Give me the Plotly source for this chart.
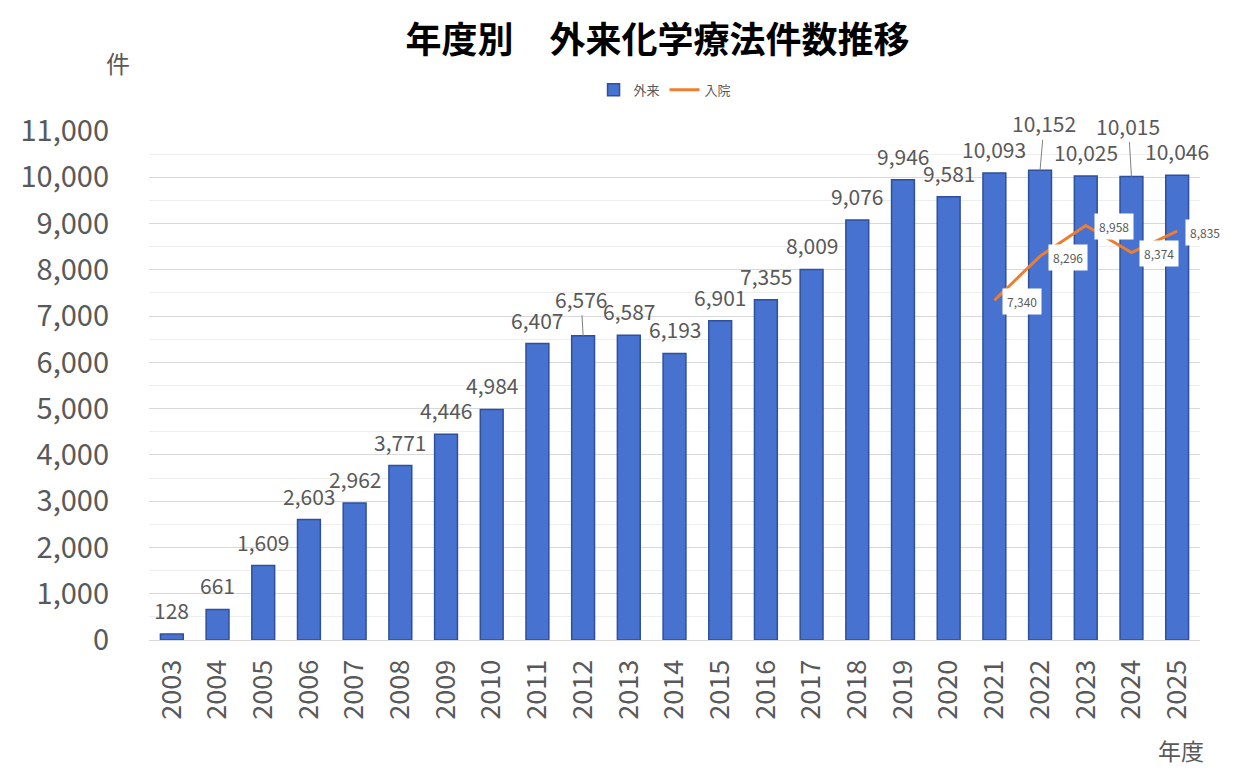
import plotly.graph_objects as go

years = [str(y) for y in range(2003, 2026)]
outpatient = [128, 661, 1609, 2603, 2962, 3771, 4446, 4984, 6407, 6576, 6587, 6193,
              6901, 7355, 8009, 9076, 9946, 9581, 10093, 10152, 10025, 10015, 10046]
inpatient_years = ["2021", "2022", "2023", "2024", "2025"]
inpatient = [7340, 8296, 8958, 8374, 8835]

FONT = "Noto Sans CJK JP, Noto Sans, sans-serif"
GREY = "#595959"

fig = go.Figure()
fig.add_trace(go.Bar(
    x=years, y=outpatient, name="外来",
    marker=dict(color="#4772CF", line=dict(color="#2E4F9C", width=1.5)),
))
fig.add_trace(go.Scatter(
    x=inpatient_years, y=inpatient, name="入院", mode="lines",
    line=dict(color="#ED7D31", width=3),
))

annotations = []
# bar labels; a few have leader lines
leader = {"2012": (-2, -37), "2022": (4, -47), "2024": (-3, -51)}
for i, (yr, v) in enumerate(zip(years, outpatient)):
    txt = f"{v:,}"
    if yr in leader:
        ax, ay = leader[yr]
        annotations.append(dict(x=i, y=v, text=txt, showarrow=True, arrowhead=0,
                                arrowwidth=1, arrowcolor="#7f7f7f", ax=ax, ay=ay,
                                font=dict(size=21, color=GREY, family=FONT)))
    else:
        annotations.append(dict(x=i, y=v, text=txt, showarrow=False, yshift=24,
                                font=dict(size=21, color=GREY, family=FONT)))
# line labels
for yr, v in zip(inpatient_years, inpatient):
    annotations.append(dict(x=years.index(yr), y=v, text=f"{v:,}", showarrow=False,
                            xanchor="left", xshift=8, yshift=-1, bgcolor="white",
                            borderpad=4,
                            font=dict(size=12, color=GREY, family=FONT)))
# axis titles
annotations.append(dict(xref="paper", yref="paper", x=-0.0295, y=1.135, text="件",
                        xanchor="center", yanchor="middle",
                        showarrow=False, font=dict(size=24, color=GREY, family=FONT)))
annotations.append(dict(xref="paper", yref="paper", x=0.982, y=-0.216, text="年度",
                        xanchor="center", yanchor="middle",
                        showarrow=False, font=dict(size=23, color=GREY, family=FONT)))

fig.update_layout(
    width=1250, height=783,
    margin=dict(l=149, r=50, t=131, b=143),
    paper_bgcolor="white", plot_bgcolor="white",
    title=dict(text="<b>年度別　外来化学療法件数推移</b>", x=0.526, xanchor="center",
               y=0.949, yanchor="middle", yref="container",
               font=dict(size=36, color="black", family=FONT)),
    bargap=0.5,
    showlegend=True,
    legend=dict(orientation="h", x=0.491, xanchor="center", y=1.081, yanchor="middle",
                font=dict(size=13, color=GREY, family=FONT), traceorder="normal"),
    annotations=annotations,
    xaxis=dict(type="category", range=[-0.5, len(years) - 0.5], autorange=False,
               tickangle=-90, showgrid=False, showline=True,
               linecolor="#d9d9d9", ticks="", ticklabelstandoff=8,
               tickfont=dict(size=27, color=GREY, family=FONT)),
    yaxis=dict(range=[0, 11000], autorange=False, dtick=1000, tickformat=",",
               showgrid=True, gridcolor="#d9d9d9", zeroline=False,
               tickfont=dict(size=29, color=GREY, family=FONT), ticks="",
               ticklabelstandoff=39,
               minor=dict(dtick=500, showgrid=True, gridcolor="#eeeeee")),
)

fig.write_html("out.html")
